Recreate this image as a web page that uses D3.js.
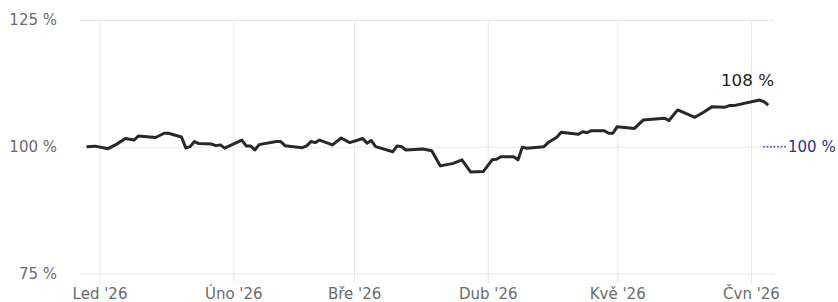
<!DOCTYPE html>
<html>
<head>
<meta charset="utf-8">
<script src="https://cdn.jsdelivr.net/npm/d3@7"></script>
<style>
  body { margin: 0; background: #fff; }
  svg { display: block; font-family: 'DejaVu Sans', sans-serif; }
</style>
</head>
<body>
<svg></svg>
<script>
// dates of the line vertices
let dates = [
  '2025-12-29', '2025-12-31', '2026-01-03', '2026-01-05', '2026-01-07', '2026-01-09',
  '2026-01-10', '2026-01-14', '2026-01-16', '2026-01-17', '2026-01-20', '2026-01-21',
  '2026-01-22', '2026-01-23', '2026-01-24', '2026-01-27', '2026-01-28', '2026-01-29',
  '2026-01-30', '2026-02-03', '2026-02-04', '2026-02-05', '2026-02-06', '2026-02-07',
  '2026-02-11', '2026-02-12', '2026-02-13', '2026-02-17', '2026-02-18', '2026-02-19',
  '2026-02-20', '2026-02-21', '2026-02-24', '2026-02-26', '2026-02-28', '2026-03-03',
  '2026-03-04', '2026-03-05', '2026-03-06', '2026-03-10', '2026-03-11', '2026-03-12',
  '2026-03-13', '2026-03-17', '2026-03-19', '2026-03-21', '2026-03-24', '2026-03-26',
  '2026-03-28', '2026-03-31', '2026-04-02', '2026-04-03', '2026-04-04', '2026-04-07',
  '2026-04-08', '2026-04-09', '2026-04-10', '2026-04-14', '2026-04-15', '2026-04-17',
  '2026-04-18', '2026-04-22', '2026-04-23', '2026-04-24', '2026-04-25', '2026-04-28',
  '2026-04-29', '2026-04-30', '2026-05-01', '2026-05-05', '2026-05-07', '2026-05-12',
  '2026-05-13', '2026-05-15', '2026-05-19', '2026-05-21', '2026-05-23', '2026-05-26',
  '2026-05-27', '2026-05-28', '2026-06-03', '2026-06-04', '2026-06-05'
];

// value in percent of the start
let values = [
  100.0, 100.1, 99.6, 100.5, 101.6, 101.3,
  102.1, 101.8, 102.65, 102.65, 101.9, 99.75,
  100.0, 101.0, 100.6, 100.5, 100.2, 100.35,
  99.7, 101.3, 100.15, 100.15, 99.35, 100.4,
  101.0, 101.0, 100.2, 99.8, 100.15, 101.0,
  100.8, 101.3, 100.35, 101.7, 100.8, 101.6,
  100.7, 101.2, 100.0, 99.0, 100.15, 100.0,
  99.35, 99.55, 99.2, 96.2, 96.7, 97.4,
  95.0, 95.1, 97.4, 97.5, 98.0, 98.0,
  97.4, 99.9, 99.7, 100.0, 100.8, 101.85,
  102.85, 102.45, 102.95, 102.75, 103.15, 103.15,
  102.65, 102.65, 103.95, 103.6, 105.25, 105.6,
  105.15, 107.25, 105.8, 106.8, 107.9, 107.8,
  108.1, 108.1, 109.2, 108.9, 108.2
];

let yTicks = [75, 100, 125];
let xTicks = ['2026-01-01', '2026-02-01', '2026-03-01', '2026-04-01', '2026-05-01', '2026-06-01'];
let xTickLabels = ["Led '26", "Úno '26", "Bře '26", "Dub '26", "Kvě '26", "Čvn '26"];
let baseValue = 100;

// configuration of svg/plot area
let config = {
  'svg': {},
  'margin': {},
  'plot': {}
};

config.svg.width = 838;
config.svg.height = 302;

config.margin.top = 20;
config.margin.right = 64;
config.margin.bottom = 28.7;
config.margin.left = 80;

config.plot.x = config.margin.left;
config.plot.y = config.margin.top;
config.plot.width = config.svg.width - config.margin.left - config.margin.right;
config.plot.height = config.svg.height - config.margin.top - config.margin.bottom;

let parseDate = d3.timeParse('%Y-%m-%d');

let data = dates.map((d, i) => ({ date: parseDate(d), value: values[i] }));

// setup svg
let svg = d3.select('body').select('svg');
svg.attr('width', config.svg.width);
svg.attr('height', config.svg.height);

let plot = svg.append('g');
plot.attr('id', 'plot');
plot.attr('transform', translate(config.plot.x, config.plot.y));

// scales
let scale = {};

scale.x = d3.scaleTime();
scale.x.domain([new Date(2025, 11, 27, 11, 30), new Date(2026, 5, 6, 8)]);
scale.x.range([0, config.plot.width]);

scale.y = d3.scaleLinear();
scale.y.domain([75, 125]);
scale.y.range([config.plot.height, 0]);

// axes (used as grid lines + labels)
let axis = {};
axis.y = d3.axisLeft(scale.y)
  .tickValues(yTicks)
  .tickSize(-config.plot.width)
  .tickPadding(23)
  .tickFormat(d => d + ' %');

axis.x = d3.axisBottom(scale.x)
  .tickValues(xTicks.map(parseDate))
  .tickSize(-config.plot.height - 10)
  .tickFormat((d, i) => xTickLabels[i]);

let gy = plot.append('g');
gy.attr('id', 'y-axis');
gy.call(axis.y);

let gx = plot.append('g');
gx.attr('id', 'x-axis');
gx.attr('transform', translate(0, config.plot.height + 10));
gx.call(axis.x);

svg.selectAll('.domain').remove();
svg.selectAll('.tick line')
  .attr('stroke', '#e8e8e8')
  .attr('stroke-width', 1);
svg.selectAll('.tick text')
  .attr('fill', '#6b6b6b')
  .style('font-size', '15px')
  .style('font-family', 'DejaVu Sans, sans-serif');
gx.selectAll('.tick text')
  .attr('y', 15.5)
  .attr('dy', 0);

// the series line
let line = d3.line()
  .x(d => scale.x(d.date))
  .y(d => scale.y(d.value));

plot.append('path')
  .datum(data)
  .attr('fill', 'none')
  .attr('stroke', '#27272d')
  .attr('stroke-width', 3)
  .attr('stroke-linejoin', 'round')
  .attr('d', line);

// label of the last value
let last = data[data.length - 1];
plot.append('text')
  .attr('x', config.plot.width)
  .attr('y', scale.y(last.value) - 19)
  .attr('text-anchor', 'end')
  .attr('fill', '#222')
  .style('font-size', '16.7px')
  .text(Math.round(last.value) + ' %');

// base reference marker
plot.append('line')
  .attr('x1', scale.x(last.date) - 5)
  .attr('x2', config.plot.width + 12)
  .attr('y1', scale.y(baseValue))
  .attr('y2', scale.y(baseValue))
  .attr('stroke', '#2e3190')
  .attr('stroke-width', 1.5)
  .attr('stroke-dasharray', '1.5,2');

plot.append('text')
  .attr('x', config.plot.width + 14)
  .attr('y', scale.y(baseValue))
  .attr('dy', '0.36em')
  .attr('fill', '#2e3190')
  .style('font-size', '15px')
  .text(baseValue + ' %');

// helper method to make translating easier
function translate(x, y) {
  return 'translate(' + x + ',' + y + ')';
}
</script>
</body>
</html>
